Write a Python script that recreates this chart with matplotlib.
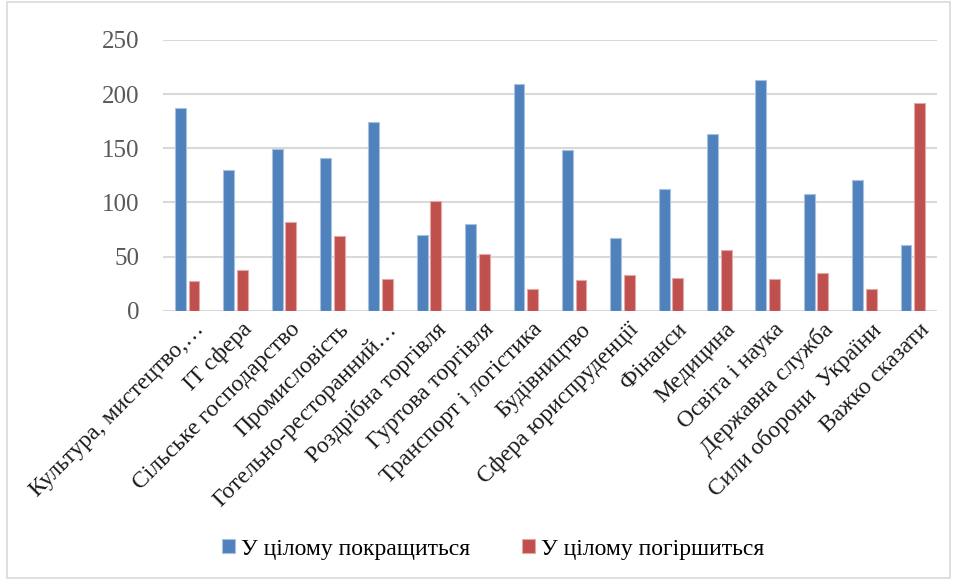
import matplotlib
matplotlib.use("Agg")
import matplotlib.pyplot as plt
import numpy as np
from matplotlib.patches import Rectangle

categories = ["Культура, мистецтво,…", "IT сфера", "Сільське господарство", "Промисловість",
              "Готельно-ресторанний…", "Роздрібна торгівля", "Гуртова торгівля",
              "Транспорт і логістика", "Будівництво", "Сфера юриспруденції", "Фінанси",
              "Медицина", "Освіта і наука", "Державна служба", "Сили оборони  України",
              "Важко сказати"]
improve = [187, 130, 149, 141, 174, 70, 80, 209, 148, 67, 112, 163, 213, 108, 121, 61]
worsen = [27, 38, 82, 69, 29, 101, 52, 20, 28, 33, 30, 56, 29, 35, 20, 192]
series_names = ["У цілому покращиться", "У цілому погіршиться"]
yticks = [0, 50, 100, 150, 200, 250]

plt.rcParams['font.family'] = ['Liberation Serif', 'DejaVu Serif']

fig = plt.figure(figsize=(9.55, 5.8), dpi=100)
ax = fig.add_axes([163/955, 1-310.7/580, (937-163)/955, (310.7-40)/580])

x = np.arange(len(categories))
w = 0.225
b1 = ax.bar(x - 0.14, improve, w, color='#4F81BD', edgecolor='#A9C1E0', linewidth=0.8,
            label=series_names[0], zorder=3)
b2 = ax.bar(x + 0.14, worsen, w, color='#C0504D', edgecolor='#E3A9A8', linewidth=0.8,
            label=series_names[1], zorder=3)

ax.set_xlim(-0.5, len(categories) - 0.5)
ax.set_ylim(0, 250)
ax.set_yticks(yticks)
ax.set_yticklabels([str(v) for v in yticks], fontsize=18, color='#595959')
ax.yaxis.grid(True, color='#D9D9D9', linewidth=1.5, zorder=0)
ax.set_axisbelow(True)
ax.tick_params(axis='y', length=0, pad=17)
ax.tick_params(axis='x', length=0, pad=6)
ax.set_xticks(x + 0.12)
ax.set_xticklabels(categories, rotation=45, ha='right', rotation_mode='anchor',
                   fontsize=17, color='#1a1a1a')
for s in ax.spines.values():
    s.set_visible(False)

fig.legend(handles=[b1, b2], labels=series_names, loc='center', ncol=2,
           bbox_to_anchor=(493/955, 1-549/580), frameon=False, fontsize=17,
           handlelength=0.55, handleheight=0.55, handletextpad=0.25, columnspacing=2.2)

fig.patches.append(Rectangle((0.007, 0.004), 0.988, 0.993, transform=fig.transFigure,
                             fill=False, edgecolor='#D9D9D9', linewidth=1.2))

fig.savefig('out.png', dpi=100, facecolor='white')
